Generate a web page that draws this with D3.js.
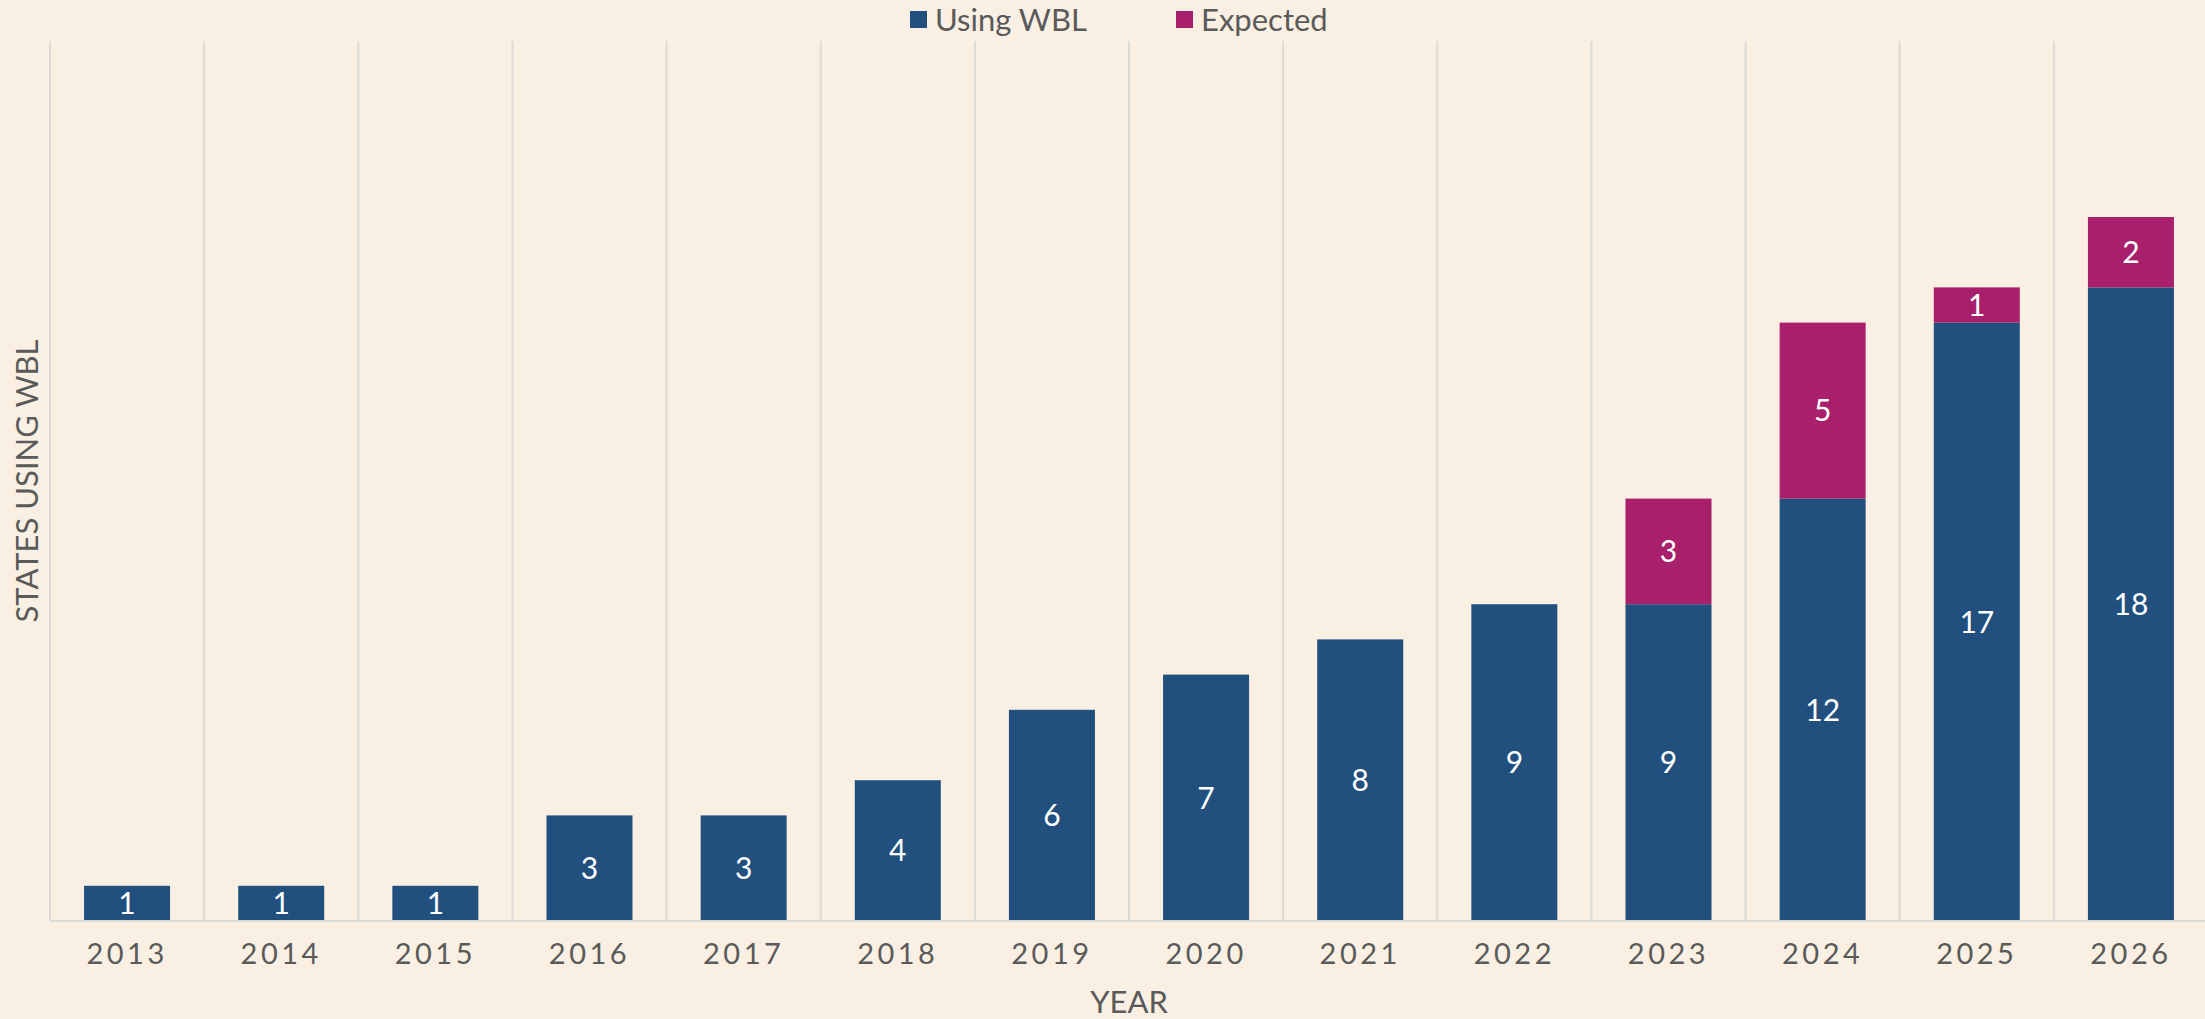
<!DOCTYPE html>
<html>
<head>
<meta charset="utf-8">
<script src="https://cdn.jsdelivr.net/npm/d3@7"></script>
<style>
  html, body { margin: 0; padding: 0; background: #f9f0e3; }
  svg { display: block; font-family: Lato, 'Open Sans', sans-serif; }
</style>
</head>
<body>
<div id="chart"></div>
<script>
const years = ['2013', '2014', '2015', '2016', '2017', '2018', '2019', '2020', '2021', '2022', '2023', '2024', '2025', '2026']
const usingWBL = [1, 1, 1, 3, 3, 4, 6, 7, 8, 9, 9, 12, 17, 18]
const expected = [0, 0, 0, 0, 0, 0, 0, 0, 0, 0, 3, 5, 1, 2]
const seriesNames = ['Using WBL', 'Expected']
const colors = ['#214f7e', '#a81f6c']

const width = 2205
const height = 1019
const margin = { top: 41, right: -3, bottom: 98, left: 50 }

const rows = years.map((yr, i) => ({ year: yr, 'Using WBL': usingWBL[i], 'Expected': expected[i] }))
const stacked = d3.stack().keys(seriesNames)(rows)

const x = d3.scaleBand()
  .domain(years)
  .range([margin.left, width - margin.right])
  .paddingInner(0.442)
  .paddingOuter(0.221)

const y = d3.scaleLinear()
  .domain([0, 25])
  .range([height - margin.bottom, margin.top])

const svg = d3.select('#chart').append('svg')
  .attr('width', width)
  .attr('height', height)

svg.append('rect')
  .attr('width', width)
  .attr('height', height)
  .attr('fill', '#f9f0e3')

// vertical gridlines between categories
const step = x.step()
const bounds = years.map((d, i) => margin.left + i * step)
svg.append('g')
  .selectAll('line')
  .data(bounds).enter()
  .append('line')
  .attr('x1', d => d)
  .attr('x2', d => d)
  .attr('y1', y(25))
  .attr('y2', y(0))
  .attr('stroke', '#dcdad6')
  .attr('stroke-width', 2)

// bars
const layer = svg.append('g')
  .selectAll('g')
  .data(stacked).enter()
  .append('g')
  .attr('fill', (d, i) => colors[i])

layer.selectAll('rect')
  .data(d => d.filter(s => s[1] - s[0] > 0)).enter()
  .append('rect')
  .attr('x', d => x(d.data.year))
  .attr('width', x.bandwidth())
  .attr('y', d => y(d[1]))
  .attr('height', d => y(d[0]) - y(d[1]))

layer.selectAll('text')
  .data(d => d.filter(s => s[1] - s[0] > 0)).enter()
  .append('text')
  .attr('x', d => x(d.data.year) + x.bandwidth() / 2)
  .attr('y', d => (y(d[0]) + y(d[1])) / 2)
  .attr('dy', '0.36em')
  .attr('text-anchor', 'middle')
  .attr('fill', '#fff')
  .attr('font-size', 30)
  .text(d => d[1] - d[0])

// x axis
const xAxis = g => g
  .attr('transform', `translate(0, ${y(0)})`)
  .call(d3.axisBottom(x).tickSize(0).tickPadding(22))
  .call(g => g.select('.domain')
    .attr('stroke', '#dcdad6')
    .attr('stroke-width', 2)
    .attr('d', `M${margin.left},0H${width}`))
  .call(g => g.selectAll('.tick text')
    .attr('font-size', 29)
    .attr('font-family', 'Lato, sans-serif')
    .attr('letter-spacing', 3.5)
    .attr('fill', '#5a5a5a'))

svg.append('g')
  .call(xAxis)

// axis titles
svg.append('text')
  .attr('x', (margin.left + width - margin.right) / 2)
  .attr('y', 1013)
  .attr('text-anchor', 'middle')
  .attr('font-size', 31)
  .attr('fill', '#5a5a5a')
  .text('YEAR')

svg.append('text')
  .attr('transform', `translate(38, ${(y(0) + y(25)) / 2}) rotate(-90)`)
  .attr('text-anchor', 'middle')
  .attr('font-size', 31)
  .attr('fill', '#5a5a5a')
  .text('STATES USING WBL')

// legend
const legendX = [910, 1176]
const legend = svg.append('g')
  .selectAll('g')
  .data(seriesNames).enter()
  .append('g')
  .attr('transform', (d, i) => `translate(${legendX[i]}, 11)`)

legend.append('rect')
  .attr('width', 17)
  .attr('height', 17)
  .attr('fill', (d, i) => colors[i])

legend.append('text')
  .attr('x', 25)
  .attr('y', 9)
  .attr('dy', '0.36em')
  .attr('font-size', 31)
  .attr('fill', '#5a5a5a')
  .text(d => d)
</script>
</body>
</html>
